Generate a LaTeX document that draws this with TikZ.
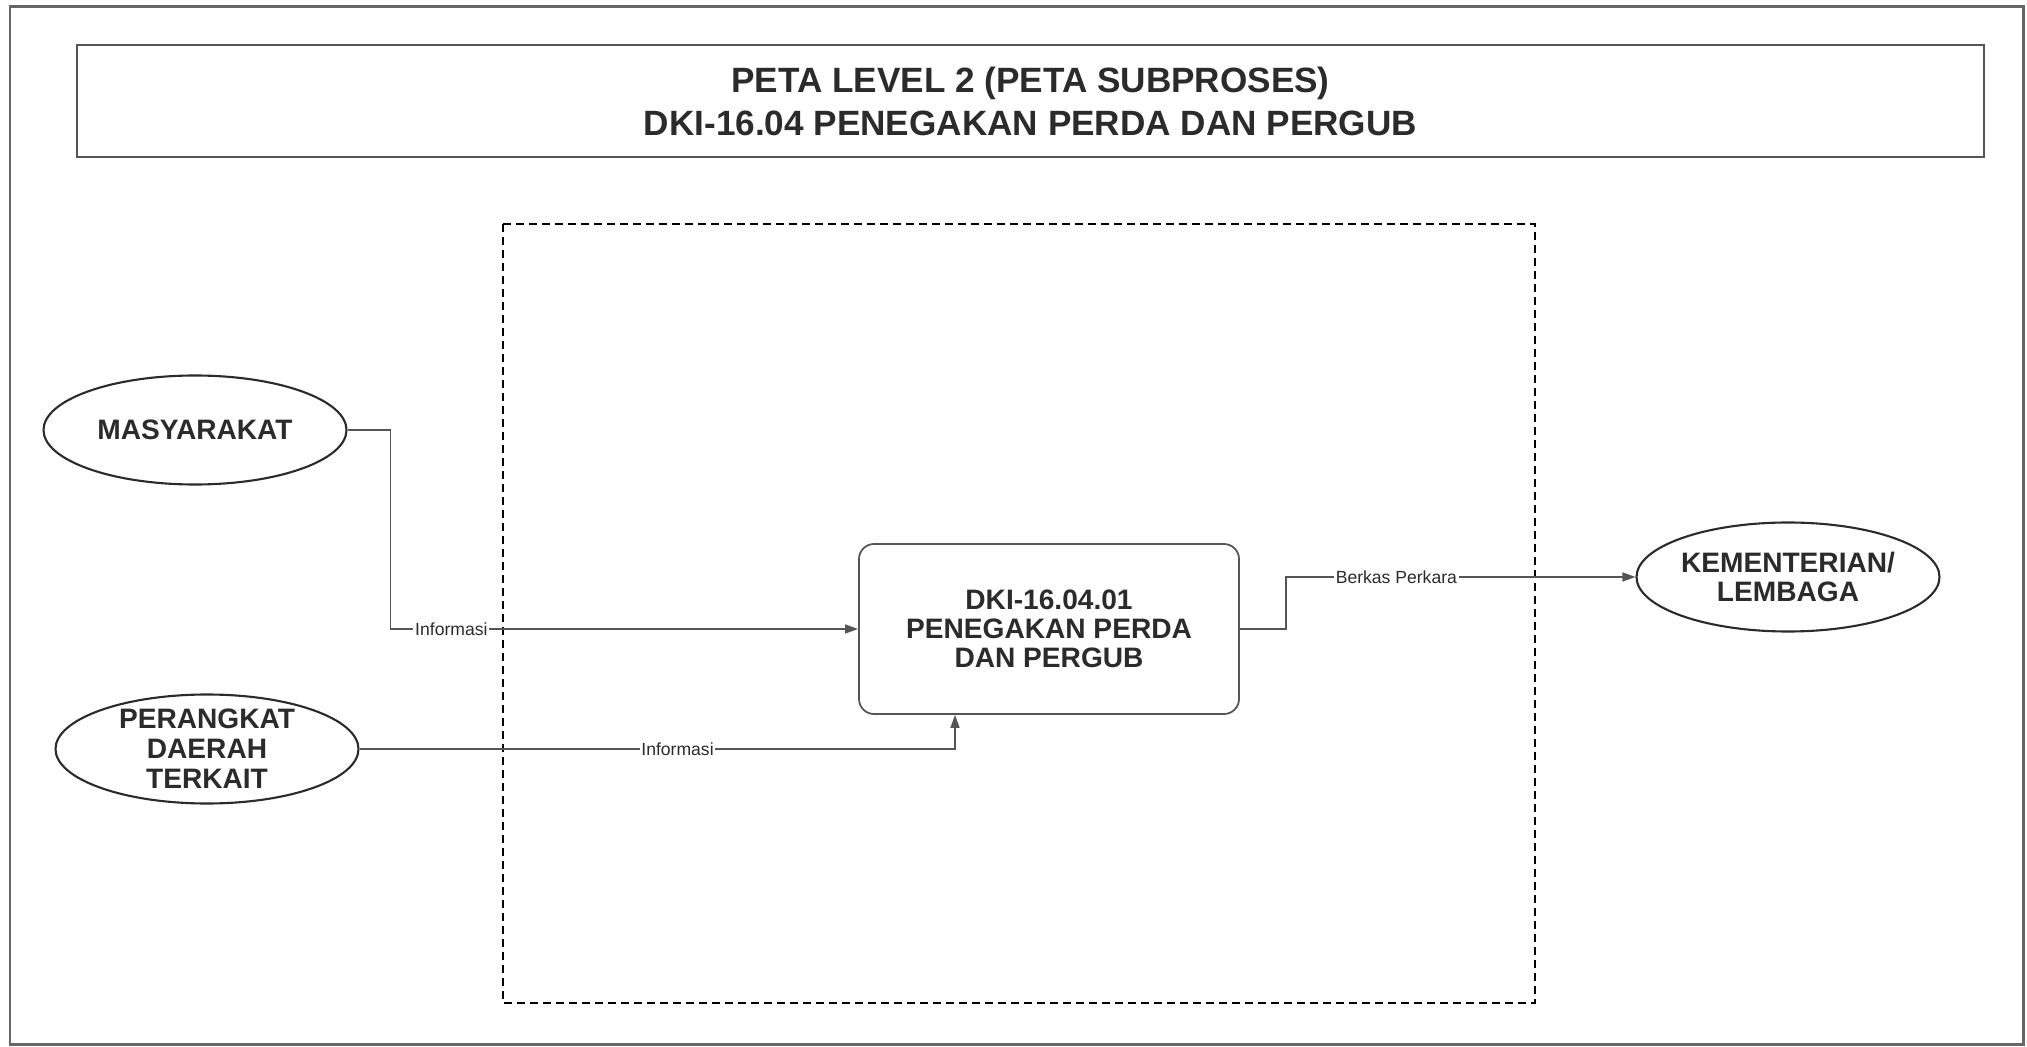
\documentclass[tikz,border=0pt]{standalone}
\usepackage{fontspec}
\setmainfont{Liberation Sans}
\usetikzlibrary{arrows.meta, positioning, shapes.geometric}
\definecolor{linegray}{HTML}{555555}
\definecolor{framegray}{HTML}{666666}
\definecolor{inkgray}{HTML}{2B2B2B}

\begin{document}
\begin{tikzpicture}[
    >=Latex,
    flow/.style={draw=linegray, line width=0.8pt, -{Triangle[length=0.26cm, width=0.18cm]}},
    actor/.style={draw=inkgray, ellipse, line width=1.2pt, minimum width=6.06cm, minimum height=2.18cm, inner sep=0pt},
    actortext/.style={align=center, font=\fontsize{16}{17}\selectfont\bfseries, text=inkgray},
    process/.style={draw=linegray, rounded corners=0.3cm, line width=1pt, minimum width=7.6cm, minimum height=3.4cm, align=center, font=\fontsize{16}{16.5}\selectfont\bfseries, text=inkgray},
    titlebox/.style={draw=linegray, line width=1pt, minimum width=38.14cm, minimum height=2.24cm, align=center, font=\fontsize{20}{24.5}\selectfont\bfseries, text=inkgray},
    lbl/.style={fill=white, inner sep=1pt, font=\fontsize{10}{12}\selectfont, text=inkgray}
]
    \useasboundingbox (0,0) rectangle (40.54,-20.94);

    % Bingkai luar dan batas subproses
    \draw[framegray, line width=1.7pt] (0.2,-0.14) rectangle (40.46,-20.88);
    \draw[black, line width=0.9pt, dash pattern=on 0.16cm off 0.1cm] (10.06,-4.48) rectangle (30.7,-20.06);

    % Judul
    \node[titlebox] (title) at (20.61,-2.02) {PETA LEVEL 2 (PETA SUBPROSES)\\DKI-16.04 PENEGAKAN PERDA DAN PERGUB};

    % Proses dan pihak terkait
    \node[process] (proc) at (20.98,-12.58) {DKI-16.04.01\\PENEGAKAN PERDA\\DAN PERGUB};
    \node[actor, left of=proc, node distance=17.08cm, yshift=3.98cm,
          label={[actortext]center:MASYARAKAT}] (masy) {};
    \node[actor, left of=proc, node distance=16.84cm, yshift=-2.4cm,
          label={[actortext]center:PERANGKAT\\DAERAH\\TERKAIT}] (pda) {};
    \node[actor, right of=proc, node distance=14.78cm, yshift=1.04cm,
          label={[actortext]center:KEMENTERIAN/\\LEMBAGA}] (kemen) {};

    % Aliran masukan
    \draw[flow] (masy.east) -- ++(0.86,0) |- node[lbl, pos=0.565] (infoA) {Informasi} (proc.west);
    \draw[flow] (pda.east) -| node[lbl, pos=0.267] (infoB) {Informasi} ([xshift=-1.88cm]proc.south);

    % Aliran keluaran
    \draw[flow] (proc.east) -- ++(0.92,0) |- node[lbl, pos=0.658] (berkas) {Berkas Perkara} (kemen.west);

\end{tikzpicture}
\end{document}
